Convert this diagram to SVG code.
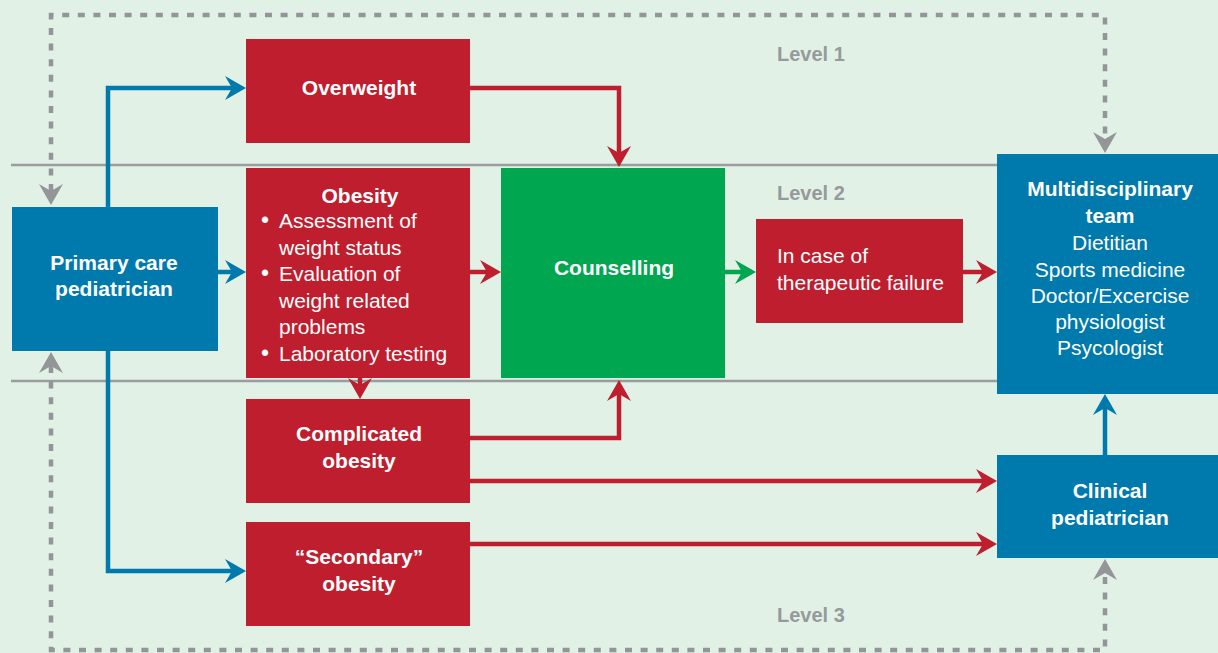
<svg xmlns="http://www.w3.org/2000/svg" width="1218" height="653" viewBox="0 0 1218 653">
<style>
.bg{fill:#E1F1E6}
.red{fill:#BE1E2D}
.blue{fill:#0079AD}
.green{fill:#00A650}
.sep{stroke:#9A9C9E;stroke-width:2.5;fill:none}
.cr{stroke:#BE1E2D;stroke-width:4.5;fill:none}
.cb{stroke:#0079AD;stroke-width:4.5;fill:none}
.cg{stroke:#00A650;stroke-width:4.5;fill:none}
.cd{stroke:#939598;stroke-width:4.5;fill:none;stroke-dasharray:7 8.6}
text{font-family:"Liberation Sans",Arial,Helvetica,sans-serif;font-size:21px;fill:#FFFFFF}
.b{font-weight:bold}
.c{text-anchor:middle}
.lvl{font-weight:bold;font-size:20px;fill:#97999B}
</style>
<defs>
<marker id="ar" markerUnits="userSpaceOnUse" markerWidth="30" markerHeight="30" viewBox="-10 -15 30 30" refX="0" refY="0" orient="auto" overflow="visible"><path d="M14,0 L-7,-12 L0,0 L-7,12 Z" fill="#BE1E2D"/></marker>
<marker id="ab" markerUnits="userSpaceOnUse" markerWidth="30" markerHeight="30" viewBox="-10 -15 30 30" refX="0" refY="0" orient="auto" overflow="visible"><path d="M14,0 L-7,-12 L0,0 L-7,12 Z" fill="#0079AD"/></marker>
<marker id="ag" markerUnits="userSpaceOnUse" markerWidth="30" markerHeight="30" viewBox="-10 -15 30 30" refX="0" refY="0" orient="auto" overflow="visible"><path d="M14,0 L-7,-12 L0,0 L-7,12 Z" fill="#00A650"/></marker>
<marker id="ad" markerUnits="userSpaceOnUse" markerWidth="30" markerHeight="30" viewBox="-10 -15 30 30" refX="0" refY="0" orient="auto-start-reverse" overflow="visible"><path d="M14,0 L-7,-12 L0,0 L-7,12 Z" fill="#939598"/></marker>
</defs>
<rect class="bg" x="0" y="0" width="1218" height="653"/>
<g id="separators">
<line class="sep" x1="11" y1="165" x2="997" y2="165"/>
<line class="sep" x1="11" y1="381" x2="997" y2="381"/>
</g>
<g id="levels">
<text class="lvl" x="777" y="61">Level 1</text>
<text class="lvl" x="777" y="200">Level 2</text>
<text class="lvl" x="777" y="622">Level 3</text>
</g>
<g id="connectors">
<path class="cd" d="M51,191 V15 H1105 V139" marker-start="url(#ad)" marker-end="url(#ad)"/>
<path class="cd" d="M51,366 V650 H1105 V573" marker-start="url(#ad)" marker-end="url(#ad)"/>
<path class="cb" d="M108,207 V88 H232" marker-end="url(#ab)"/>
<path class="cb" d="M218,272 H232" marker-end="url(#ab)"/>
<path class="cb" d="M108,351 V571 H232" marker-end="url(#ab)"/>
<path class="cr" d="M470,88 H619 V153" marker-end="url(#ar)"/>
<path class="cr" d="M470,272 H487" marker-end="url(#ar)"/>
<path class="cr" d="M360,378 V385" marker-end="url(#ar)"/>
<path class="cr" d="M470,438 H619 V394" marker-end="url(#ar)"/>
<path class="cr" d="M470,481 H983" marker-end="url(#ar)"/>
<path class="cr" d="M470,544 H983" marker-end="url(#ar)"/>
<path class="cg" d="M725,272 H742" marker-end="url(#ag)"/>
<path class="cr" d="M963,272 H983" marker-end="url(#ar)"/>
<path class="cb" d="M1105,455 V408" marker-end="url(#ab)"/>
</g>
<g id="primary">
<rect class="blue" x="12" y="207" width="206" height="144"/>
<text class="b c" x="114" y="270">Primary care</text>
<text class="b c" x="114" y="296">pediatrician</text>
</g>
<g id="overweight">
<rect class="red" x="246" y="39" width="224" height="104"/>
<text class="b c" x="359" y="95">Overweight</text>
</g>
<g id="obesity">
<rect class="red" x="246" y="168" width="224" height="210"/>
<text class="b c" x="360" y="203">Obesity</text>
<text x="261" y="228" style="font-size:23px">•</text><text x="279" y="228">Assessment of</text>
<text x="279" y="255">weight status</text>
<text x="261" y="281" style="font-size:23px">•</text><text x="279" y="281">Evaluation of</text>
<text x="279" y="308">weight related</text>
<text x="279" y="334">problems</text>
<text x="261" y="361" style="font-size:23px">•</text><text x="279" y="361">Laboratory testing</text>
</g>
<g id="complicated">
<rect class="red" x="246" y="399" width="224" height="104"/>
<text class="b c" x="359" y="441">Complicated</text>
<text class="b c" x="359" y="468">obesity</text>
</g>
<g id="secondary">
<rect class="red" x="246" y="522" width="224" height="104"/>
<text class="b c" x="359" y="564">“Secondary”</text>
<text class="b c" x="359" y="591">obesity</text>
</g>
<g id="counselling">
<rect class="green" x="501" y="168" width="224" height="210"/>
<text class="b c" x="614" y="275">Counselling</text>
</g>
<g id="failure">
<rect class="red" x="756" y="219" width="207" height="104"/>
<text x="777" y="263">In case of</text>
<text x="777" y="290">therapeutic failure</text>
</g>
<g id="mdt">
<rect class="blue" x="997" y="154" width="221" height="240"/>
<text class="b c" x="1110" y="196">Multidisciplinary</text>
<text class="b c" x="1110" y="223">team</text>
<text class="c" x="1110" y="250">Dietitian</text>
<text class="c" x="1110" y="277">Sports medicine</text>
<text class="c" x="1110" y="303">Doctor/Excercise</text>
<text class="c" x="1110" y="329">physiologist</text>
<text class="c" x="1110" y="355">Psycologist</text>
</g>
<g id="clinical">
<rect class="blue" x="997" y="455" width="221" height="103"/>
<text class="b c" x="1110" y="498">Clinical</text>
<text class="b c" x="1110" y="525">pediatrician</text>
</g>
</svg>
